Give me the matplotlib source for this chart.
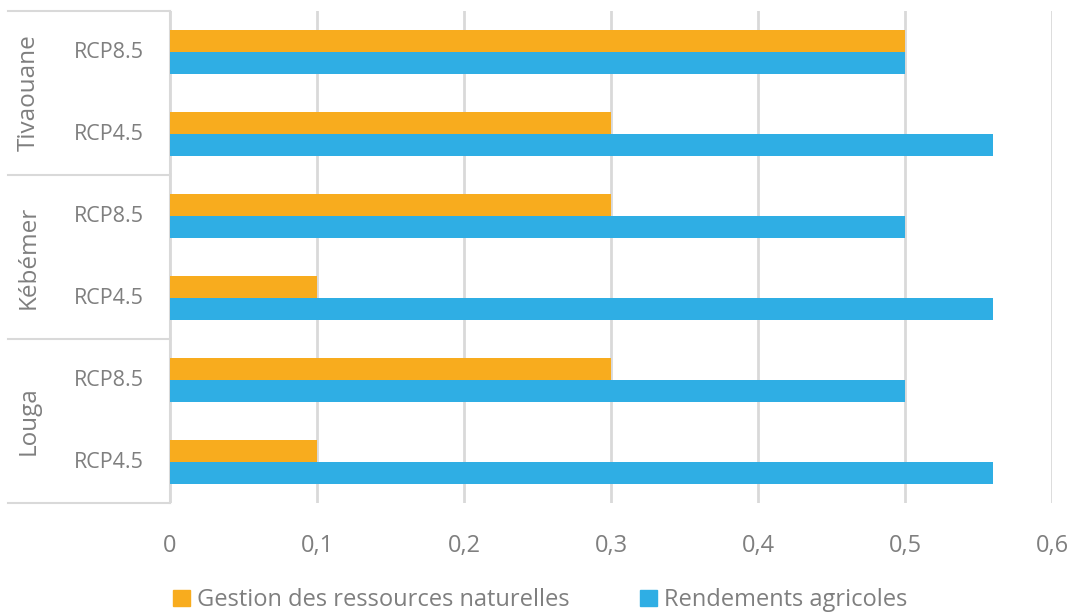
import matplotlib.pyplot as plt
import matplotlib.transforms as mtransforms
from matplotlib.lines import Line2D
from matplotlib.ticker import FuncFormatter
from matplotlib.patches import Patch
import numpy as np

plt.rcParams['font.family'] = ['Open Sans', 'DejaVu Sans']

# Data (bottom to top)
sites = ['Louga', 'Kébémer', 'Tivaouane']
scenarios = ['RCP4.5', 'RCP8.5']
gestion = [0.1, 0.3, 0.1, 0.3, 0.3, 0.5]
rendements = [0.56, 0.5, 0.56, 0.5, 0.56, 0.5]
series_names = ['Gestion des ressources naturelles', 'Rendements agricoles']

c_orange = '#F8AC1E'
c_blue = '#2FAEE4'
c_text = '#7F7F7F'
c_grid = '#D9D9D9'

fig = plt.figure(figsize=(10.8, 6.15), dpi=100)
ax = fig.add_axes([170 / 1080, 1 - 503 / 615, (1052 - 170) / 1080, (503 - 11) / 615])

y = np.arange(len(gestion))
h = 0.265
ax.barh(y + h / 2, gestion, height=h, color=c_orange, zorder=3)
ax.barh(y - h / 2, rendements, height=h, color=c_blue, zorder=3)

ax.set_xlim(0, 0.6)
ax.set_ylim(-0.5, len(gestion) - 0.5)
ax.set_xticks(np.arange(0, 0.61, 0.1))
ax.xaxis.set_major_formatter(FuncFormatter(lambda v, p: ('%g' % round(v, 1)).replace('.', ',')))
ax.tick_params(axis='x', length=0, labelsize=17, labelcolor=c_text, pad=22)
ax.set_yticks([])
ax.grid(axis='x', color=c_grid, linewidth=2, zorder=0)
for s in ['top', 'right', 'bottom']:
    ax.spines[s].set_visible(False)
ax.spines['left'].set_color(c_grid)
ax.spines['left'].set_linewidth(1.5)

# hierarchical category labels
trans = mtransforms.blended_transform_factory(ax.transAxes, ax.transData)
x_left = (8 - 170) / 882
for i, yy in enumerate(y):
    ax.text(-26 / 882, yy, scenarios[i % 2], transform=trans, ha='right', va='center',
            fontsize=15.5, color=c_text)
for k, site in enumerate(sites):
    ax.text(-141 / 882, 2 * k + 0.5, site, transform=trans, ha='center', va='center',
            rotation=90, fontsize=17.5, color=c_text)
for b in [-0.5, 1.5, 3.5, 5.5]:
    ax.add_line(Line2D([x_left, 0], [b, b], transform=trans, color=c_grid,
                       linewidth=1.5, clip_on=False))

handles = [Patch(color=c_orange), Patch(color=c_blue)]
fig.legend(handles, series_names, loc='lower center', bbox_to_anchor=(0.5, -0.03), ncol=2,
           frameon=False, fontsize=17, labelcolor=c_text, handlelength=0.7, handleheight=0.7,
           handletextpad=0.3, columnspacing=3)

fig.savefig('out.png', dpi=100)
